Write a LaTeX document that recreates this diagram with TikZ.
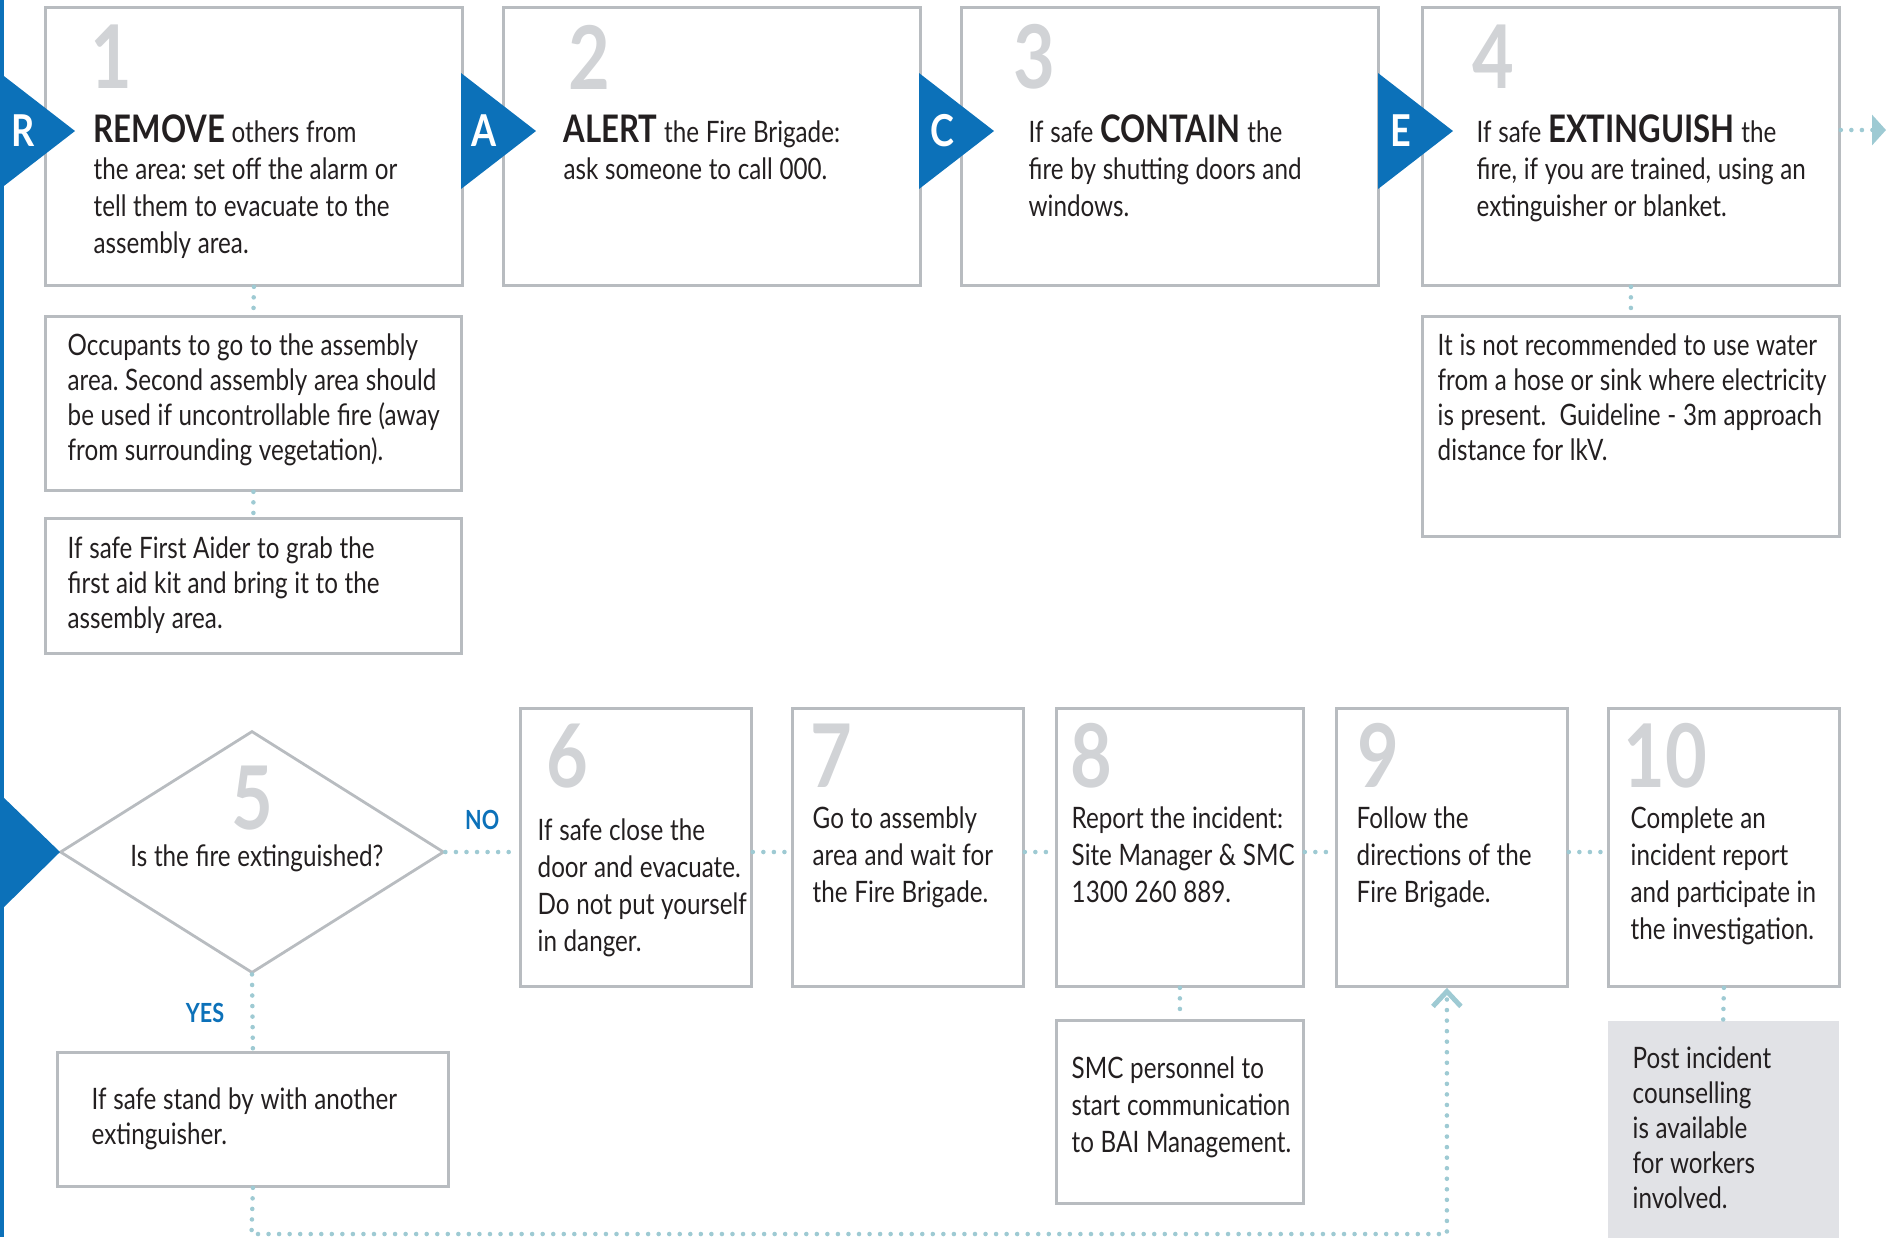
\documentclass[tikz,border=0pt]{standalone}
\usepackage{fontspec}
\setmainfont{Lato}[FakeStretch=0.82]
\usepackage{tikz}
\usetikzlibrary{arrows.meta,shapes.geometric}
\definecolor{raceblue}{RGB}{12,113,185}
\definecolor{boxgray}{RGB}{184,188,192}
\definecolor{numgray}{RGB}{209,211,214}
\definecolor{dotblue}{RGB}{158,202,211}
\definecolor{ink}{RGB}{35,31,32}
\definecolor{shade}{RGB}{225,226,230}
\newcommand{\keyw}[1]{{\fontsize{10.8}{10.6}\selectfont\bfseries #1}}
\newcommand{\tightsp}{\spaceskip 1.9pt plus 0.3pt\relax}
\frenchspacing

\begin{document}
\begin{tikzpicture}[
  stepbox/.style={rectangle, draw=boxgray, line width=0.8pt, inner sep=0pt,
                  anchor=north west, minimum width=4.17cm, minimum height=2.78cm},
  rowbox/.style={rectangle, draw=boxgray, line width=0.8pt, inner sep=0pt,
                 anchor=north west, minimum width=2.31cm, minimum height=2.78cm},
  notebox/.style={rectangle, draw=boxgray, line width=0.8pt, inner sep=0pt,
                  anchor=north west, minimum width=4.16cm},
  shadebox/.style={rectangle, fill=shade, inner sep=0pt, anchor=north west,
                   minimum width=2.31cm, minimum height=2.17cm},
  decision/.style={diamond, draw=boxgray, line width=0.8pt, inner sep=0pt,
                   minimum width=3.84cm, minimum height=2.42cm},
  num/.style={font=\fontsize{25}{24}\selectfont\bfseries, text=numgray,
              anchor=base west, inner sep=0pt},
  txt/.style={font=\fontsize{8.4}{10.6}\selectfont, text=ink,
              anchor=base west, inner sep=0pt, text width=5cm, align=left,
              execute at begin node=\tightsp},
  txtn/.style={txt, font=\fontsize{8.4}{10}\selectfont},
  racelet/.style={font=\fontsize{12.5}{12.5}\selectfont\bfseries, text=white,
                  inner sep=0pt},
  answer/.style={font=\fontsize{7.5}{7.5}\selectfont\bfseries, text=raceblue,
                 inner sep=0pt},
  dotline/.style={draw=dotblue, line width=1.3pt, line cap=round,
                  dash pattern=on 0pt off 3pt}
]
\useasboundingbox (0,0) rectangle (18.87,-12.37);

% ── Blue bar ─────────────────────────
\fill[raceblue] (0,0) rectangle (0.04,-12.37);

% ── Steps 1-4 ────────────────────────
\node[stepbox] (s1) at (0.44,-0.06) {};
\node[stepbox] (s2) at (5.02,-0.06) {};
\node[stepbox] (s3) at (9.60,-0.06) {};
\node[stepbox] (s4) at (14.21,-0.06) {};

\node[num] (d1) at (0.90,-0.88) {1};
\node[num] (d2) at (5.68,-0.89) {2};
\node[num] (d3) at (10.13,-0.88) {3};
\node[num] (d4) at (14.72,-0.88) {4};

\node[txt] (t1) at (0.93,-1.42)
  {\keyw{REMOVE} others from\\the area: set off the alarm or\\tell them to evacuate to the\\assembly area.};
\node[txt] (t2) at (5.63,-1.42)
  {\keyw{ALERT} the Fire Brigade:\\ask someone to call 000.};
\node[txt] (t3) at (10.28,-1.42)
  {If safe \keyw{CONTAIN} the\\fire by shutting doors and\\windows.};
\node[txt] (t4) at (14.76,-1.42)
  {If safe \keyw{EXTINGUISH} the\\fire, if you are trained, using an\\extinguisher or blanket.};

% ── R A C E markers ──────────────────
\foreach \x/\l in {0/R, 4.61/A, 9.19/C, 13.78/E} {
  \fill[raceblue] (\x,-0.73) -- ++(0.75,-0.58) -- ++(-0.75,-0.58) -- cycle;
  \node[racelet] (race\l) at (\x+0.23,-1.31) {\l};
}

% ── Notes under 1 and 4 ──────────────
\node[notebox, minimum height=1.74cm] (n1a) at (0.44,-3.15) {};
\node[notebox, minimum height=1.35cm] (n1b) at (0.44,-5.17) {};
\node[notebox, minimum width=4.17cm, minimum height=2.20cm] (n4a) at (14.21,-3.15) {};

\node[txtn] (m1a) at (0.67,-3.55)
  {Occupants to go to the assembly\\area. Second assembly area should\\be used if uncontrollable fire (away\\from surrounding vegetation).};
\node[txtn] (m1b) at (0.67,-5.58)
  {If safe First Aider to grab the\\first aid kit and bring it to the\\assembly area.};
\node[txtn] (m4a) at (14.37,-3.55)
  {It is not recommended to use water\\from a hose or sink where electricity\\is present.\ \ Guideline - 3m approach\\distance for lkV.};

% ── Step 5 decision ──────────────────
\node[decision] (q5) at (2.52,-8.52) {};
\node[num, anchor=base] (d5) at (2.52,-8.29) {5};
\node[txt, text width=, anchor=base] (tq) at (2.57,-8.66) {Is the fire extinguished?};
\fill[raceblue] (0,-7.94) -- (0.60,-8.52) -- (0,-9.11) -- cycle;

\node[notebox, minimum width=3.91cm, minimum height=1.34cm] (n5a) at (0.56,-10.51) {};
\node[txtn] (m5a) at (0.91,-11.09) {If safe stand by with another\\extinguisher.};

% ── Steps 6-10 ───────────────────────
\node[rowbox] (s6) at (5.19,-7.07) {};
\node[rowbox] (s7) at (7.91,-7.07) {};
\node[rowbox, minimum width=2.47cm] (s8) at (10.55,-7.07) {};
\node[rowbox] (s9) at (13.35,-7.07) {};
\node[rowbox] (s10) at (16.07,-7.07) {};

\node[num] (d6) at (5.46,-7.87) {6};
\node[num] (d7) at (8.10,-7.87) {7};
\node[num] (d8) at (10.70,-7.87) {8};
\node[num] (d9) at (13.57,-7.87) {9};
\node[num] (d10) at (16.23,-7.87) {10};

\node[txt] (t6) at (5.37,-8.40)
  {If safe close the\\door and evacuate.\\Do not put yourself\\in danger.};
\node[txt] (t7) at (8.12,-8.28)
  {Go to assembly\\area and wait for\\the Fire Brigade.};
\node[txt] (t8) at (10.71,-8.28)
  {Report the incident:\\Site Manager \& SMC\\1300 260 889.};
\node[txt] (t9) at (13.56,-8.28)
  {Follow the\\directions of the\\Fire Brigade.};
\node[txt] (t10) at (16.30,-8.28)
  {Complete an\\incident report\\and participate in\\the investigation.};

\node[notebox, minimum width=2.47cm, minimum height=1.83cm] (n8a) at (10.55,-10.19) {};
\node[txt] (m8a) at (10.71,-10.78)
  {SMC personnel to\\start communication\\to BAI Management.};
\node[shadebox] (n10a) at (16.07,-10.20) {};
\node[txtn] (m10a) at (16.32,-10.68)
  {Post incident\\counselling\\is available\\for workers\\involved.};

% ── Dotted links ─────────────────────
\draw[dotline] (s1.south) -- (n1a.north);
\draw[dotline] (n1a.south) -- (n1b.north);
\draw[dotline] (s4.south) -- (n4a.north);
\coordinate (next) at (18.86,-1.30);
\draw[dotline, -{Triangle[length=1.4mm, width=3mm]}] (s4.east |- next) -- (next);

\draw[dotline] (q5.east) -- node[answer, above=0.2cm] (no) {NO} (s6.west |- q5.east);
\draw[dotline] (q5.south) -- node[answer, left=0.26cm] (yes) {YES} (n5a.north);

\foreach \a/\b in {6/7, 7/8, 8/9, 9/10} {
  \draw[dotline] (s\a.east |- q5) -- (s\b.west |- q5);
}

\draw[dotline] (s8.south) -- (n8a.north);
\draw[dotline] (s10.south) -- (n10a.north);

\coordinate (back) at (2.515,-12.34);
\draw[dotline, -{Straight Barb[length=1.5mm, width=2.8mm, line width=1.4pt]}]
  (n5a.south) -- (back) -| ([xshift=-0.05cm]s9.south);

\end{tikzpicture}
\end{document}
